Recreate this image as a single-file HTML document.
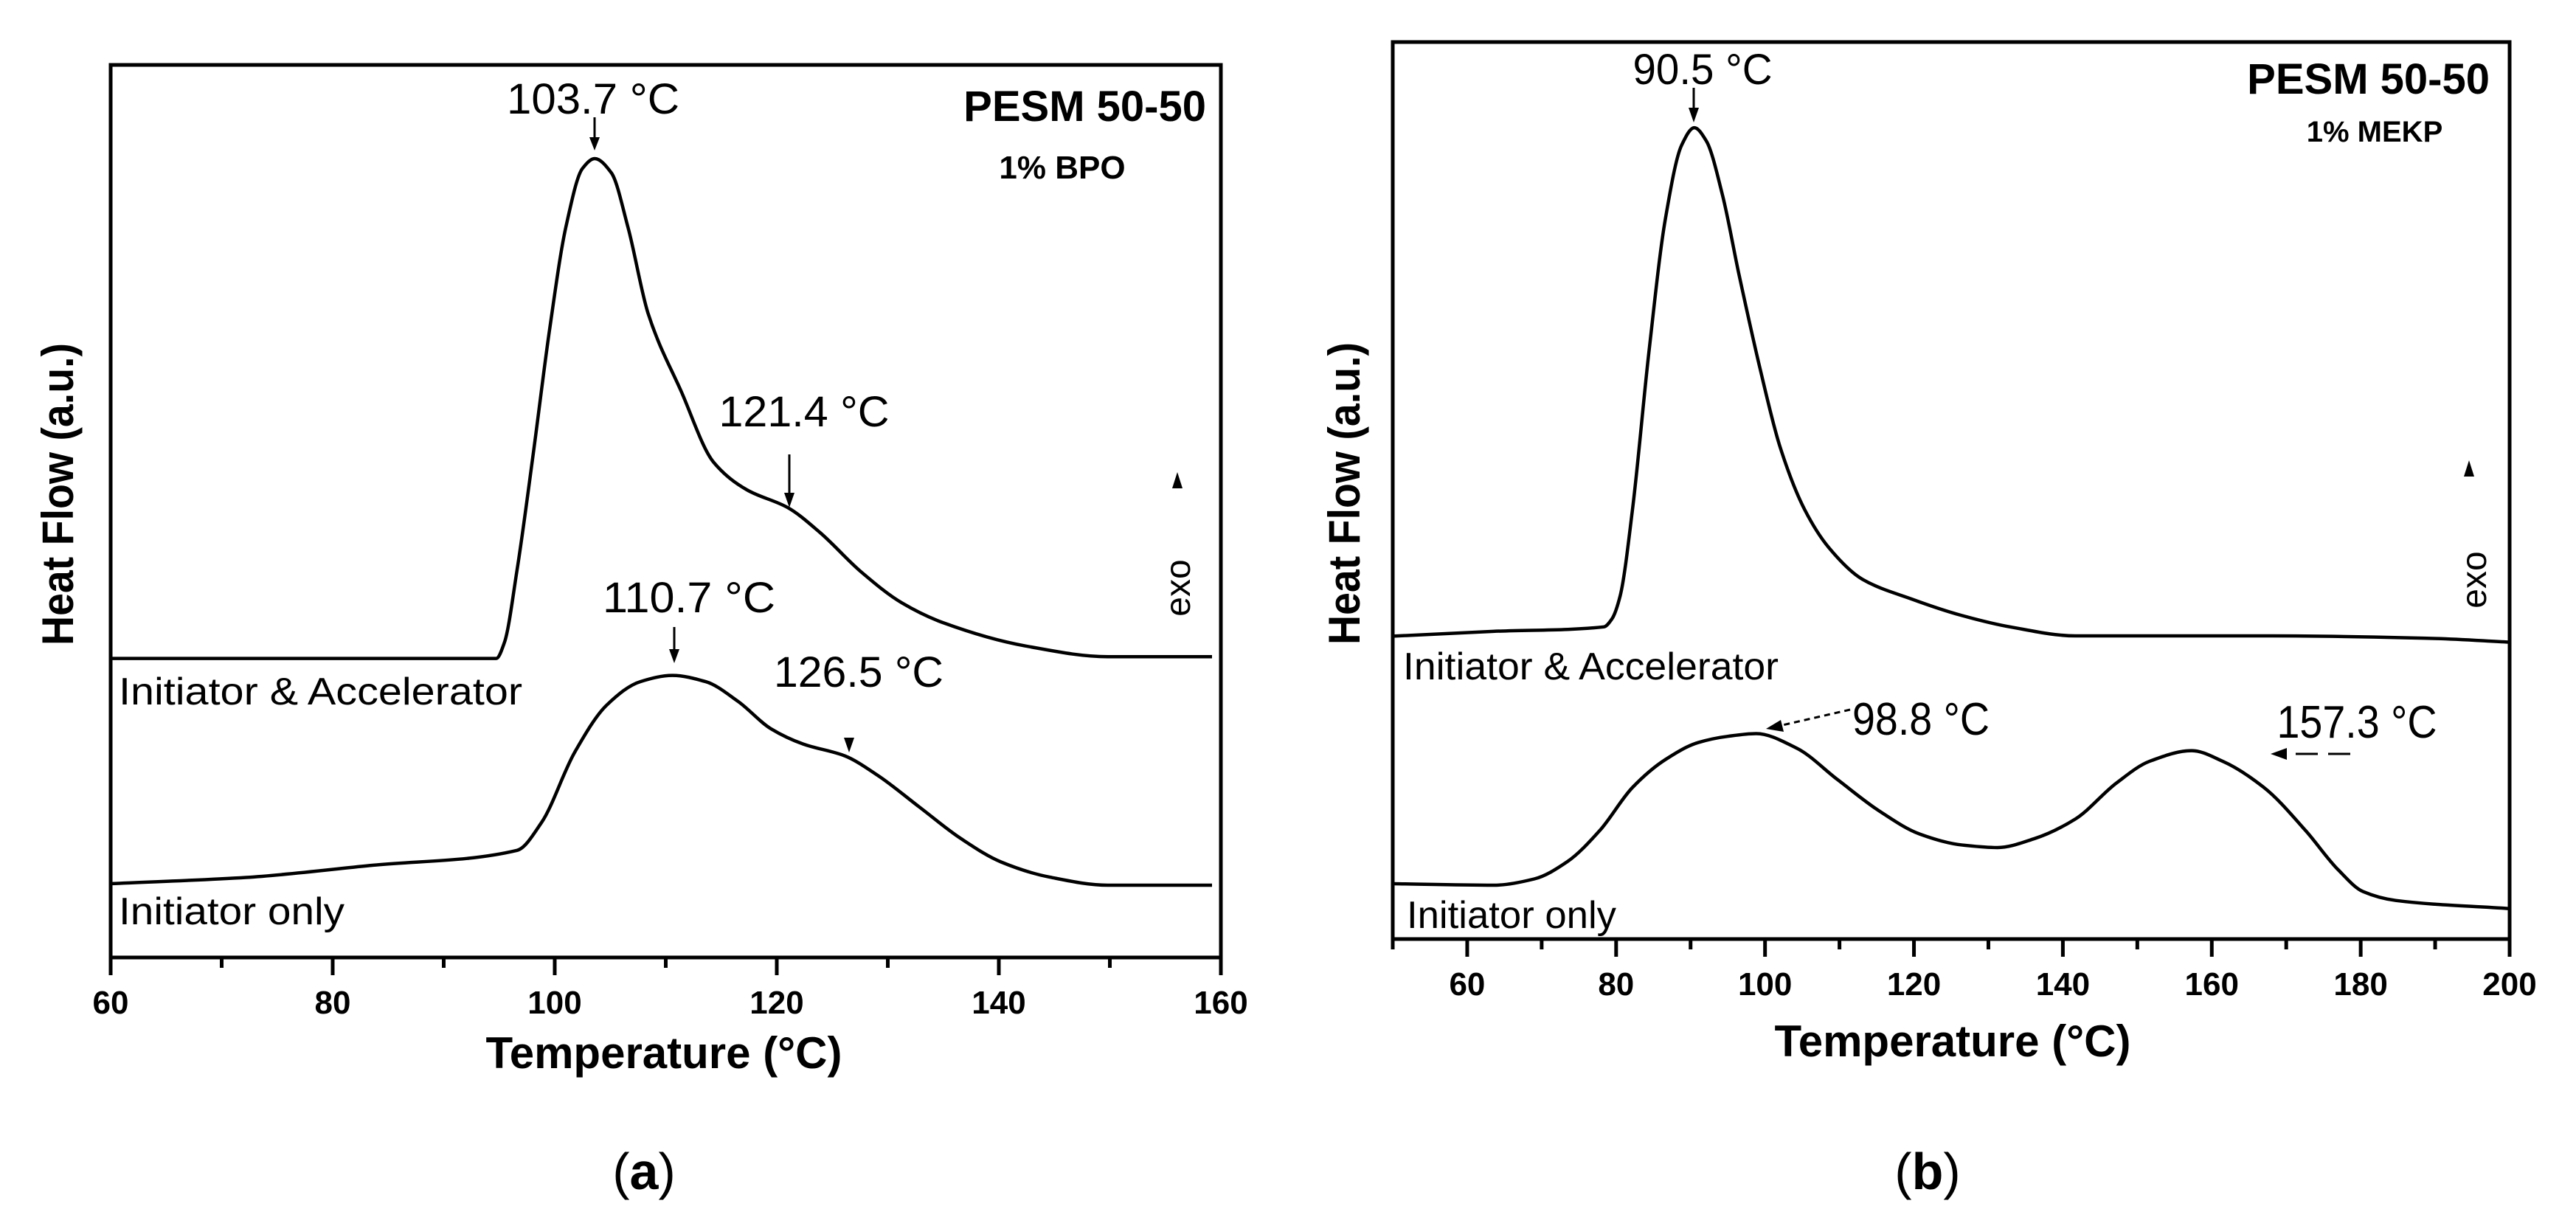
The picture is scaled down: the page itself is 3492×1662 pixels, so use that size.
<!DOCTYPE html>
<html><head><meta charset="utf-8">
<style>
html,body{margin:0;padding:0;background:#fff;}
svg{display:block;}
text{font-family:"Liberation Sans",Arial,sans-serif;fill:#000;}
</style></head>
<body>
<svg id="fig" width="3492" height="1662" viewBox="0 0 3492 1662" xmlns="http://www.w3.org/2000/svg">
<rect width="3492" height="1662" fill="#fff"/>
<g id="panelA"></g>
<g id="panelB"></g>
</svg>
<script>
// ---------- Panel (a) data ----------
const aAccelT = [60,94.73,95.47,96.58,98.06,99.54,101.0,102.5,103.6,105.1,106.6,108.4,111.4,114.3,117.3,121.0,123.9,127.6,131.3,135.0,142.4,149.8,159.2];
const aAccelH = [33.5,33.5,35.3,43.2,56.4,70.4,81.8,88.4,89.5,87.9,81.8,72.2,63.4,55.5,52.4,50.4,47.6,43.2,39.7,37.5,34.9,33.7,33.7];
const aInitT = [60,72.2,83.3,96.6,98.8,101.8,104.7,107.7,110.6,113.6,116.5,119.5,122.4,126.1,129.1,132.8,136.5,140.2,144.6,149.8,159.2];
const aInitH = [8.27,8.97,10.3,12.0,15.1,23.0,28.3,30.9,31.6,30.9,28.7,25.6,23.9,22.6,20.4,16.9,13.4,10.7,9.0,8.1,8.1];
const aTicks = [60,80,100,120,140,160];
const aTickLabels = ["60","80","100","120","140","160"];
const aMinor = [70,90,110,130,150];
// ---------- Panel (b) data ----------
const bAccelT = [50.03,63.5,78.35,79.45,80.55,82.2,84.4,86.6,88.8,90.5,92.1,94.3,96.5,99.3,102.0,105.3,108.6,113.1,119.7,126.3,132.9,141.7,168.1,190.2,199.9];
const bAccelH = [33.77,34.3,34.8,35.7,38.3,47.9,65.4,80.2,88.5,90.45,89.0,82.9,74.1,63.7,54.9,47.9,43.6,40.1,37.9,36.1,34.8,33.8,33.8,33.5,33.1];
const bInitT = [50.03,63.5,69.0,73.4,77.8,82.2,86.6,91.0,95.0,98.8,104.2,109.7,115.3,120.8,126.3,131.2,136.2,141.7,147.2,151.6,157.3,161.5,167.0,172.6,177.0,180.3,184.7,199.9];
const bInitH = [6.17,6.0,6.7,8.6,12.1,16.9,20.0,21.9,22.6,22.9,21.3,17.8,14.3,11.7,10.5,10.2,11.2,13.4,17.4,19.8,21.0,19.8,16.9,12.1,7.7,5.3,4.3,3.4];
const bTicks = [60,80,100,120,140,160,180,200];
const bTickLabels = ["60","80","100","120","140","160","180","200"];
const bMinor = [50,70,90,110,130,150,170,190];

const NS="http://www.w3.org/2000/svg";
function mk(parent,tag,attrs,txt){const e=document.createElementNS(NS,tag);for(const k in attrs)e.setAttribute(k,attrs[k]);if(txt!==undefined)e.textContent=txt;parent.appendChild(e);return e;}

function monoPath(pts){
  const n=pts.length, dx=[], sl=[], m=[];
  for(let i=0;i<n-1;i++){dx[i]=pts[i+1][0]-pts[i][0];sl[i]=(pts[i+1][1]-pts[i][1])/dx[i];}
  m[0]=sl[0];m[n-1]=sl[n-2];
  for(let i=1;i<n-1;i++){
    if(sl[i-1]*sl[i]<=0)m[i]=0;
    else{const w1=2*dx[i]+dx[i-1],w2=dx[i]+2*dx[i-1];m[i]=(w1+w2)/(w1/sl[i-1]+w2/sl[i]);}
  }
  let d="M"+pts[0][0].toFixed(1)+","+pts[0][1].toFixed(1);
  for(let i=0;i<n-1;i++){
    const h=dx[i];
    d+=" C"+(pts[i][0]+h/3).toFixed(1)+","+(pts[i][1]+m[i]*h/3).toFixed(1)+" "+(pts[i+1][0]-h/3).toFixed(1)+","+(pts[i+1][1]-m[i+1]*h/3).toFixed(1)+" "+pts[i+1][0].toFixed(1)+","+pts[i+1][1].toFixed(1);
  }
  return d;
}

function drawPanel(g,cfg){
  const xs=t=>cfg.L+(t-cfg.xmin)/(cfg.xmax-cfg.xmin)*(cfg.R-cfg.L);
  const ys=h=>cfg.B-h/100*(cfg.B-cfg.T);
  const fr=mk(g,'rect',{x:cfg.L,y:cfg.T,width:cfg.R-cfg.L,height:cfg.B-cfg.T,fill:'none',stroke:'#000','stroke-width':5});
  
  
  cfg.ticks.forEach((t,i)=>{
    const x=xs(t);
    const tk=mk(g,'line',{x1:x,y1:cfg.B,x2:x,y2:cfg.B+24,stroke:'#000','stroke-width':5});
    
    
    const lb=mk(g,'text',{x:x,y:cfg.B+76,'font-size':44,'font-weight':'bold','text-anchor':'middle'},cfg.labels[i]);
    
    
  });
  cfg.minor.forEach(t=>{
    const x=xs(t);
    const tk=mk(g,'line',{x1:x,y1:cfg.B,x2:x,y2:cfg.B+14,stroke:'#000','stroke-width':5});
    
    
  });
  cfg.series.forEach(s=>{
    const pts=s.t.map((t,i)=>[xs(t),ys(s.h[i])]);
    const p=mk(g,'path',{d:monoPath(pts),fill:'none',stroke:'#000','stroke-width':4.5,'stroke-linejoin':'round'});
    
    
  });
}

const A=document.getElementById('panelA');
drawPanel(A,{L:150,R:1655,T:88,B:1298,xmin:60,xmax:160,ticks:aTicks,labels:aTickLabels,minor:aMinor,
  series:[{t:aAccelT,h:aAccelH,name:'curve-initiator-accelerator'},{t:aInitT,h:aInitH,name:'curve-initiator-only'}]});
const B=document.getElementById('panelB');
drawPanel(B,{L:1888,R:3402,T:57,B:1273,xmin:50,xmax:200,ticks:bTicks,labels:bTickLabels,minor:bMinor,
  series:[{t:bAccelT,h:bAccelH,name:'curve-initiator-accelerator'},{t:bInitT,h:bInitH,name:'curve-initiator-only'}]});
</script>

<script>
const svg=document.getElementById('fig');
const S="http://www.w3.org/2000/svg";
function t(attrs,txt,name){const e=document.createElementNS(S,'text');for(const k in attrs)e.setAttribute(k,attrs[k]);e.textContent=txt;


svg.appendChild(e);return e;}
function ln(x1,y1,x2,y2,name,dash){const e=document.createElementNS(S,'line');e.setAttribute('x1',x1);e.setAttribute('y1',y1);e.setAttribute('x2',x2);e.setAttribute('y2',y2);e.setAttribute('stroke','#000');e.setAttribute('stroke-width',3);if(dash)e.setAttribute('stroke-dasharray',dash);


svg.appendChild(e);}
function head(pts,name){const e=document.createElementNS(S,'polygon');e.setAttribute('points',pts);e.setAttribute('fill','#000');


svg.appendChild(e);}

t({x:900,y:1448,'font-size':60,'font-weight':'bold','text-anchor':'middle'},'Temperature (°C)','x-axis-title-a');
t({x:2647,y:1432,'font-size':60,'font-weight':'bold','text-anchor':'middle'},'Temperature (°C)','x-axis-title-b');
t({x:0,y:0,'font-size':60,'font-weight':'bold','text-anchor':'middle',transform:'translate(99,670) rotate(-90)',textLength:410,lengthAdjust:'spacingAndGlyphs'},'Heat Flow (a.u.)','y-axis-title-a');
t({x:0,y:0,'font-size':60,'font-weight':'bold','text-anchor':'middle',transform:'translate(1843,669) rotate(-90)',textLength:410,lengthAdjust:'spacingAndGlyphs'},'Heat Flow (a.u.)','y-axis-title-b');

t({x:1635,y:164,'font-size':58,'font-weight':'bold','text-anchor':'end'},'PESM 50-50','panel-a-title');
t({x:1440,y:242,'font-size':44,'font-weight':'bold','text-anchor':'middle'},'1% BPO','panel-a-subtitle');
t({x:3375,y:127,'font-size':58,'font-weight':'bold','text-anchor':'end'},'PESM 50-50','panel-b-title');
t({x:3219,y:192,'font-size':40,'font-weight':'bold','text-anchor':'middle'},'1% MEKP','panel-b-subtitle');

t({x:0,y:0,'font-size':48,'text-anchor':'middle',transform:'translate(1613,797) rotate(-90)'},'exo','exo-label-a');
head('1596,640 1589,662 1603,662','exo-arrow-a');
t({x:0,y:0,'font-size':48,'text-anchor':'middle',transform:'translate(3370,786) rotate(-90)'},'exo','exo-label-b');
head('3347,624 3340,646 3354,646','exo-arrow-b');

t({x:161,y:955,'font-size':52,textLength:547,lengthAdjust:'spacingAndGlyphs'},'Initiator & Accelerator','label-initiator-accelerator-a');
t({x:161,y:1253,'font-size':52,textLength:306,lengthAdjust:'spacingAndGlyphs'},'Initiator only','label-initiator-only-a');
t({x:1902,y:921,'font-size':52,textLength:509,lengthAdjust:'spacingAndGlyphs'},'Initiator & Accelerator','label-initiator-accelerator-b');
t({x:1907,y:1258,'font-size':52,textLength:284,lengthAdjust:'spacingAndGlyphs'},'Initiator only','label-initiator-only-b');

t({x:804,y:154,'font-size':58,'text-anchor':'middle',textLength:234,lengthAdjust:'spacingAndGlyphs'},'103.7 °C','peak-label-103-7');
ln(806,159,806,190,'peak-arrow-103-7'); head('806,204 799,186 813,186','peak-arrowhead-103-7');
t({x:1090,y:578,'font-size':58,'text-anchor':'middle',textLength:231,lengthAdjust:'spacingAndGlyphs'},'121.4 °C','peak-label-121-4');
ln(1070,616,1070,672,'peak-arrow-121-4'); head('1070,688 1063,668 1077,668','peak-arrowhead-121-4');
t({x:934,y:830,'font-size':58,'text-anchor':'middle',textLength:234,lengthAdjust:'spacingAndGlyphs'},'110.7 °C','peak-label-110-7');
ln(914,850,914,884,'peak-arrow-110-7'); head('914,899 907,880 921,880','peak-arrowhead-110-7');
t({x:1164,y:931,'font-size':58,'text-anchor':'middle',textLength:230,lengthAdjust:'spacingAndGlyphs'},'126.5 °C','peak-label-126-5');
head('1151,1020 1144,1000 1158,1000','peak-arrowhead-126-5');

t({x:2308,y:114,'font-size':58,'text-anchor':'middle',textLength:189,lengthAdjust:'spacingAndGlyphs'},'90.5 °C','peak-label-90-5');
ln(2296,119,2296,150,'peak-arrow-90-5'); head('2296,166 2289,146 2303,146','peak-arrowhead-90-5');
t({x:2604,y:996,'font-size':62,'text-anchor':'middle',textLength:186,lengthAdjust:'spacingAndGlyphs'},'98.8 °C','peak-label-98-8');
ln(2508,962,2412,984,'peak-arrow-98-8','8,6'); head('2394,988 2414,976 2418,992','peak-arrowhead-98-8');
t({x:3195,y:1000,'font-size':62,'text-anchor':'middle',textLength:217,lengthAdjust:'spacingAndGlyphs'},'157.3 °C','peak-label-157-3');
ln(3186,1022,3100,1022,'peak-arrow-157-3','30,14'); head('3078,1022 3100,1014 3100,1030','peak-arrowhead-157-3');

const ca=t({x:873,y:1612,'font-size':70,'text-anchor':'middle','font-family':'Liberation Serif, serif'},'','caption-a');
ca.innerHTML='(<tspan font-weight="bold">a</tspan>)';
const cb=t({x:2613,y:1612,'font-size':70,'text-anchor':'middle','font-family':'Liberation Serif, serif'},'','caption-b');
cb.innerHTML='(<tspan font-weight="bold">b</tspan>)';
</script>
</body></html>
